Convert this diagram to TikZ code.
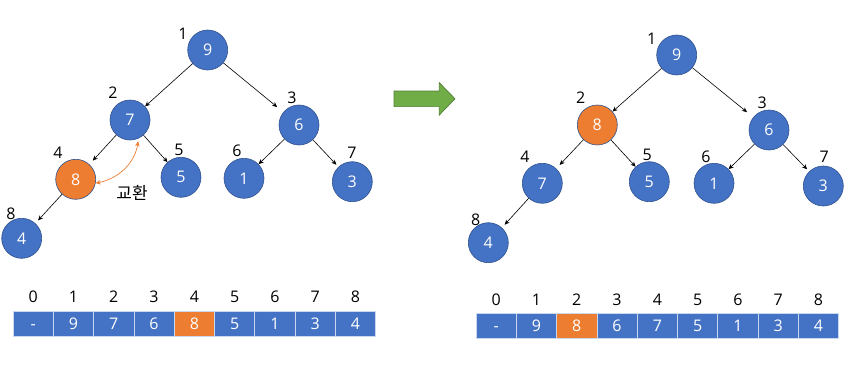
\documentclass[tikz,border=0pt]{standalone}
\usepackage{fontspec}
\setmainfont{Open Sans}
\newfontfamily\kr{Noto Sans CJK KR}
\usetikzlibrary{arrows.meta}
\definecolor{hblue}{HTML}{4472C4}
\definecolor{hblueb}{HTML}{2F528F}
\definecolor{horange}{HTML}{ED7D31}
\definecolor{hgreen}{HTML}{70AD47}
\definecolor{hgreenb}{HTML}{507E32}
\definecolor{cellline}{HTML}{C9D7EF}
\tikzset{
  hnode/.style={circle, minimum size=40pt, inner sep=0pt, fill=hblue, draw=hblueb, line width=0.6pt, text=white, font=\fontsize{16}{18}\selectfont},
  onode/.style={hnode, fill=horange},
  idx/.style={inner sep=0pt, font=\fontsize{16}{18}\selectfont},
  cell/.style={minimum width=40.3pt, minimum height=25pt, inner sep=0pt, text height=11.4pt, text depth=0pt, fill=hblue, draw=cellline, line width=0.8pt, text=white, font=\fontsize{16}{18}\selectfont},
  ocell/.style={cell, fill=horange},
  edge/.style={-{Stealth[length=5pt,width=4.5pt]}, line width=0.6pt, black},
  swapc/.style={{Stealth[length=5pt,width=4.5pt]}-{Stealth[length=5pt,width=4.5pt]}, line width=0.7pt, horange},
}
\begin{document}
\begin{tikzpicture}[x=1pt,y=-1pt]
\useasboundingbox (0,0) rectangle (858,375);
% ---------- left tree ----------
\node[hnode] (a1) at (207.7,50) {9};
\node[hnode] (a2) at (130,120) {7};
\node[hnode] (a3) at (299,125) {6};
\node[onode] (a4) at (75.7,179.3) {8};
\node[hnode] (a5) at (181,177.3) {5};
\node[hnode] (a6) at (244,178.3) {1};
\node[hnode] (a7) at (352.3,181.7) {3};
\node[hnode] (a8) at (21.7,238.3) {4};
\node[idx] (la1) at (183,34) {1};
\node[idx] (la2) at (113,93) {2};
\node[idx] (la3) at (292,98) {3};
\node[idx] (la4) at (58,153) {4};
\node[idx] (la5) at (179,150) {5};
\node[idx] (la6) at (237,151) {6};
\node[idx] (la7) at (352,153) {7};
\node[idx] (la8) at (11,214) {8};
\draw[edge] (a1) -- (a2);
\draw[edge, shorten >=8pt] (a1) -- (a3);
\draw[edge, shorten >=5pt] (a2) -- (a4);
\draw[edge] (a2) -- (a5);
\draw[edge] (a3) -- (a6);
\draw[edge, shorten >=3pt] (a3) -- (a7);
\draw[edge, shorten >=4pt] (a4) -- (a8);
\draw[swapc, shorten >=3pt] (a4.-11) to[bend right=35] (a2.-65);
\node[idx, font=\kr\fontsize{17}{20}\selectfont] (swaplbl) at (132,192.7) {교환};
% ---------- green arrow ----------
\fill[hgreen, draw=hgreenb, line width=0.7pt] (394,91) -- (439.3,91) -- (439.3,82.7) -- (455,98.8) -- (439.3,115) -- (439.3,106.6) -- (394,106.6) -- cycle;
% ---------- right tree ----------
\node[hnode] (b1) at (676.7,55) {9};
\node[onode] (b2) at (597.3,125) {8};
\node[hnode] (b3) at (769,130) {6};
\node[hnode] (b4) at (542.3,183.3) {7};
\node[hnode] (b5) at (649.3,181.7) {5};
\node[hnode] (b6) at (714,183.3) {1};
\node[hnode] (b7) at (823.3,186) {3};
\node[hnode] (b8) at (488.3,242.7) {4};
\node[idx] (lb1) at (651.7,38.3) {1};
\node[idx] (lb2) at (580.7,98) {2};
\node[idx] (lb3) at (762.3,103) {3};
\node[idx] (lb4) at (525,156.7) {4};
\node[idx] (lb5) at (647.3,155) {5};
\node[idx] (lb6) at (706,156.7) {6};
\node[idx] (lb7) at (824.3,156.7) {7};
\node[idx] (lb8) at (475.7,220) {8};
\draw[edge] (b1) -- (b2);
\draw[edge, shorten >=8pt] (b1) -- (b3);
\draw[edge, shorten >=5pt] (b2) -- (b4);
\draw[edge] (b2) -- (b5);
\draw[edge] (b3) -- (b6);
\draw[edge, shorten >=3pt] (b3) -- (b7);
\draw[edge, shorten >=4pt] (b4) -- (b8);
% ---------- left array ----------
\foreach \i/\v/\s in {0/-/cell,1/9/cell,2/7/cell,3/6/cell,4/8/ocell,5/5/cell,6/1/cell,7/3/cell,8/4/cell}{
  \node[\s] (ca\i) at ({13+40.3*(\i+0.5)},323.5) {\v};
  \node[idx] (ia\i) at ({13+40.3*(\i+0.5)},297) {\i};
}
% ---------- right array ----------
\foreach \i/\v/\s in {0/-/cell,1/9/cell,2/8/ocell,3/6/cell,4/7/cell,5/5/cell,6/1/cell,7/3/cell,8/4/cell}{
  \node[\s] (cb\i) at ({476+40.3*(\i+0.5)},325.5) {\v};
  \node[idx] (ib\i) at ({476+40.3*(\i+0.5)},300) {\i};
}
\end{tikzpicture}
\end{document}
